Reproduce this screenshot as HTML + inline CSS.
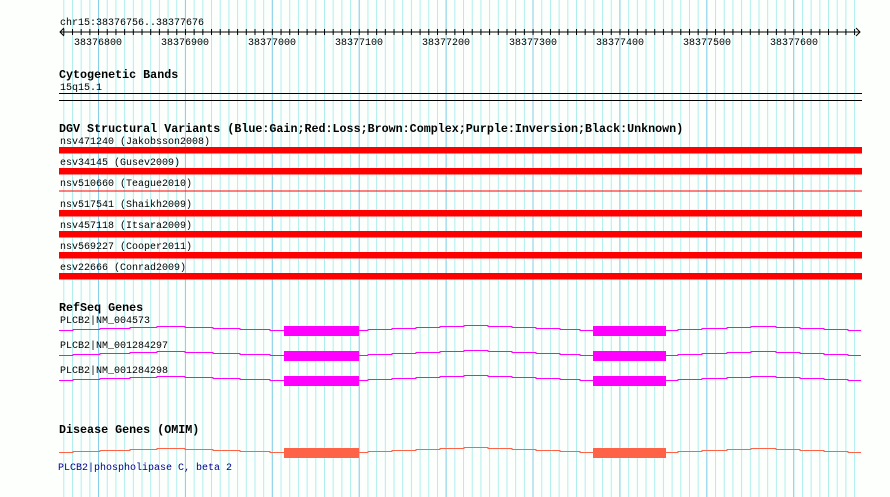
<!DOCTYPE html>
<html><head><meta charset="utf-8"><style>
html,body{margin:0;padding:0;background:#fdfffd;}
svg{display:block;}
text{font-family:"Liberation Mono","DejaVu Sans Mono",monospace;font-size:10px;fill:#000;}
.b{font-weight:bold;font-size:11.7px;}
</style></head><body>
<svg width="890" height="497" viewBox="0 0 890 497" xmlns="http://www.w3.org/2000/svg">
<defs>
<pattern id="mn" patternUnits="userSpaceOnUse" x="63.3" y="0" width="8.69" height="497"><rect x="0" y="0" width="1" height="497" fill="#aeeeee"/></pattern>
<pattern id="mj" patternUnits="userSpaceOnUse" x="98" y="0" width="86.9" height="497"><rect x="0" y="0" width="1" height="497" fill="#87ceeb"/></pattern>
<pattern id="tk" patternUnits="userSpaceOnUse" x="63.3" y="0" width="8.69" height="40"><rect x="0" y="29" width="1" height="6" fill="#000"/></pattern>
</defs>
<rect x="59" y="0" width="800" height="497" fill="url(#mn)"/>
<rect x="59" y="0" width="800" height="497" fill="url(#mj)"/>

<text x="60" y="25">chr15:38376756..38377676</text>
<rect x="60" y="31.5" width="800" height="1" fill="#000"/>
<rect x="59" y="0" width="800" height="40" fill="url(#tk)"/>
<path d="M64 28 L60 32 L64 36 M856 28 L860 32 L856 36" stroke="#000" fill="none" stroke-width="1"/>
<text x="74" y="45">38376800</text>
<text x="161" y="45">38376900</text>
<text x="248" y="45">38377000</text>
<text x="335" y="45">38377100</text>
<text x="422" y="45">38377200</text>
<text x="509" y="45">38377300</text>
<text x="596" y="45">38377400</text>
<text x="683" y="45">38377500</text>
<text x="770" y="45">38377600</text>

<text class="b" x="59" y="78">Cytogenetic Bands</text>
<text x="60" y="90">15q15.1</text>
<rect x="59" y="93" width="803" height="1" fill="#000"/>
<rect x="59" y="100" width="803" height="1" fill="#000"/>

<text class="b" x="59" y="132">DGV Structural Variants (Blue:Gain;Red:Loss;Brown:Complex;Purple:Inversion;Black:Unknown)</text>
<text x="60" y="144">nsv471240 (Jakobsson2008)</text>
<rect x="59" y="147" width="803" height="6.5" fill="#ff0000"/>
<text x="60" y="165">esv34145 (Gusev2009)</text>
<rect x="59" y="168" width="803" height="6.5" fill="#ff0000"/>
<text x="60" y="186">nsv510660 (Teague2010)</text>
<rect x="59" y="190.5" width="803" height="1" fill="#ff0000"/>
<text x="60" y="207">nsv517541 (Shaikh2009)</text>
<rect x="59" y="210" width="803" height="6.5" fill="#ff0000"/>
<text x="60" y="228">nsv457118 (Itsara2009)</text>
<rect x="59" y="231" width="803" height="6.5" fill="#ff0000"/>
<text x="60" y="249">nsv569227 (Cooper2011)</text>
<rect x="59" y="252" width="803" height="6.5" fill="#ff0000"/>
<text x="60" y="270">esv22666 (Conrad2009)</text>
<rect x="59" y="273" width="803" height="6.5" fill="#ff0000"/>

<text class="b" x="59" y="311">RefSeq Genes</text>
<g fill="none" stroke-width="1">
<g stroke="#ff00ff">
<path id="g1" d="M59 330.5 H73 V329.5 H100 V328.5 H130 V327.5 H157 V326.5 H185 V327.5 H213 V328.5 H240 V329.5 H270 V330.5 H284 M359 330.5 H368 V329.5 H392 V328.5 H416 V327.5 H440 V326.5 H464 V325.5 H488 V326.5 H512 V327.5 H536 V328.5 H560 V329.5 H580 V330.5 H593 M666 330.5 H678 V329.5 H702 V328.5 H727 V327.5 H751 V326.5 H776 V327.5 H800 V328.5 H824 V329.5 H848 V330.5 H861"/>
<use href="#g1" y="25"/>
<use href="#g1" y="50"/>
</g>
<use href="#g1" y="122" stroke="#ff6347"/>
</g>
<text x="60" y="323">PLCB2|NM_004573</text>
<rect x="284" y="326" width="75" height="10" fill="#ff00ff"/>
<rect x="593" y="326" width="73" height="10" fill="#ff00ff"/>
<text x="60" y="348">PLCB2|NM_001284297</text>
<rect x="284" y="351" width="75" height="10" fill="#ff00ff"/>
<rect x="593" y="351" width="73" height="10" fill="#ff00ff"/>
<text x="60" y="373">PLCB2|NM_001284298</text>
<rect x="284" y="376" width="75" height="10" fill="#ff00ff"/>
<rect x="593" y="376" width="73" height="10" fill="#ff00ff"/>

<text class="b" x="59" y="433">Disease Genes (OMIM)</text>
<rect x="284" y="448" width="75" height="10" fill="#ff6347"/>
<rect x="593" y="448" width="73" height="10" fill="#ff6347"/>
<text x="58" y="470" style="fill:#00008b">PLCB2|phospholipase C, beta 2</text>
</svg>
</body></html>
